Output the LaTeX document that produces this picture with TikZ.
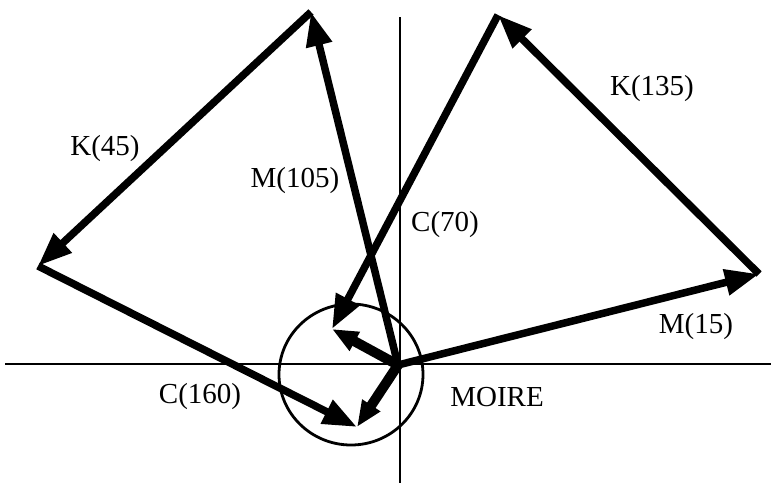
\documentclass[tikz,border=0pt]{standalone}
\usepackage{fontspec}
\setmainfont{Liberation Serif}
\usetikzlibrary{arrows.meta}
\begin{document}
\begin{tikzpicture}[x=1pt,y=-1pt,
  vec/.style={line width=7.5pt,-{Triangle[length=34pt,width=25pt]}},
  res/.style={line width=10pt,-{Triangle[length=26pt,width=20pt]}},
  axis/.style={line width=1.3pt},
  lab/.style={font=\fontsize{29}{31}\selectfont,inner sep=0pt}]
\useasboundingbox (0,0) rectangle (771,483);
% axes and circle
\coordinate (HL) at (5,364);
\coordinate (HR) at (771,364);
\coordinate (VT) at (400,17);
\coordinate (VB) at (400,483);
\draw[axis] (HL) -- (HR);
\draw[axis] (VT) -- (VB);
\coordinate (CC) at (351,374.5);
\draw[line width=2.8pt] (CC) ellipse (72 and 70.5);
% points
\coordinate (O) at (398,365);
\coordinate (A) at (759,274);
\coordinate (B) at (498,15);
\coordinate (R1) at (332,329);
\coordinate (D) at (311,12);
\coordinate (E) at (38,266);
\coordinate (R2) at (357,427);
% vectors
\draw[vec] (O) -- (A);
\draw[vec] (A) -- (B);
\draw[vec] (B) -- (R1);
\draw[vec] (O) -- (D);
\draw[vec] (D) -- (E);
\draw[vec] (E) -- (R2);
\draw[res] (O) -- (R1);
\draw[res] (O) -- (R2);
% labels
\node[lab] (lK45) at (105,148.5) {K(45)};
\node[lab] (lM105) at (295,181) {M(105)};
\node[lab] (lC70) at (445,225) {C(70)};
\node[lab] (lK135) at (652,89) {K(135)};
\node[lab] (lM15) at (696,327) {M(15)};
\node[lab] (lC160) at (200,397) {C(160)};
\node[lab] (lMOIRE) at (497,397) {MOIRE};
\end{tikzpicture}
\end{document}
